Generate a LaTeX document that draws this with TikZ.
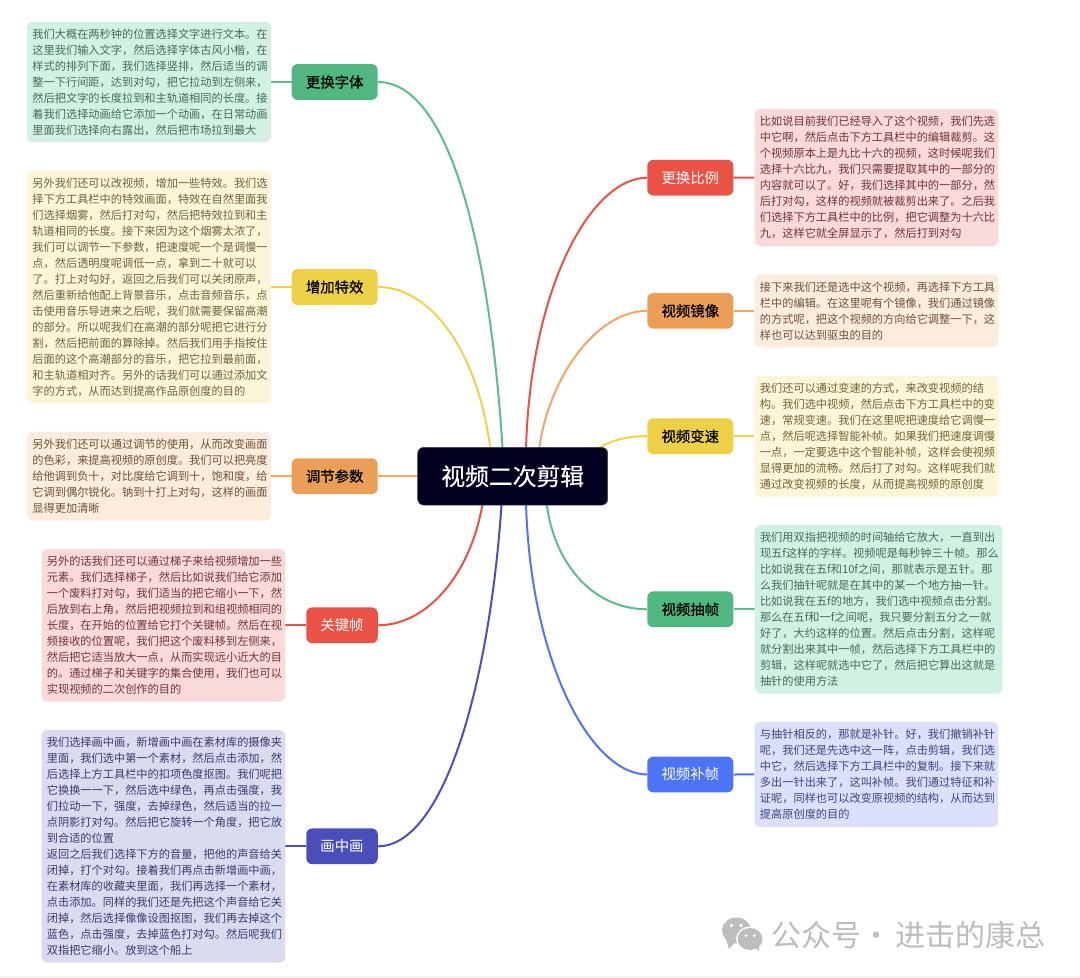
\documentclass[tikz,border=0pt]{standalone}
\usepackage{fontspec}
\setmainfont{Noto Sans CJK SC}
\newfontfamily\medfont[FakeBold=0.7]{Noto Sans CJK SC}
\newfontfamily\rootfont[FakeBold=0.3]{Noto Sans CJK SC}
\usetikzlibrary{backgrounds}
\definecolor{gN}{HTML}{4FB77F}\definecolor{gL}{HTML}{5AC08B}\definecolor{gB}{HTML}{D3F1E3}\definecolor{gT}{HTML}{3F6F5A}
\definecolor{yN}{HTML}{EED047}\definecolor{yL}{HTML}{F2D14A}\definecolor{yB}{HTML}{FCF5D8}\definecolor{yT}{HTML}{6E6537}
\definecolor{oN}{HTML}{EB9F56}\definecolor{oL}{HTML}{F2A765}\definecolor{oB}{HTML}{FBECDD}\definecolor{oT}{HTML}{6E5238}
\definecolor{rN}{HTML}{EA5245}\definecolor{rL}{HTML}{EA5245}\definecolor{rB}{HTML}{F9D9D9}\definecolor{rT}{HTML}{733535}
\definecolor{iN}{HTML}{4A4EB8}\definecolor{iL}{HTML}{4B4FB9}\definecolor{iB}{HTML}{DBDBF0}\definecolor{iT}{HTML}{3A3A6F}
\definecolor{bN}{HTML}{4D73F7}\definecolor{bL}{HTML}{4F74F8}\definecolor{bB}{HTML}{DCE0FB}\definecolor{bT}{HTML}{3C4580}
\definecolor{rootC}{HTML}{02001F}\definecolor{wm}{HTML}{BDBDBD}\definecolor{strip}{HTML}{F5F5F5}
\tikzset{
  note/.style={rounded corners=6pt,inner xsep=5.3pt,inner ysep=0pt,align=left,
    font=\fontsize{11.2pt}{16pt}\selectfont},
  wide/.style={minimum width=243.7pt,text width=233.1pt},
  topic/.style={rounded corners=6pt,inner sep=0pt,minimum height=35.8pt,align=center},
  dark/.style={topic,text=black,font=\fontsize{14.4pt}{17pt}\medfont},
  light/.style={topic,text=white,font=\fontsize{14.4pt}{17pt}\selectfont},
  link/.style={line width=2pt}
}
\begin{document}
\begin{tikzpicture}[x=1pt,y=-1pt]
\useasboundingbox (0,0) rectangle (1080,978);

% root
\node[rounded corners=6pt,fill=rootC,draw=rootC!75!white,line width=.5pt,text=white,inner sep=0pt,
  minimum width=190pt,minimum height=57.7pt,font=\fontsize{23.8pt}{28pt}\rootfont] (root) at (512.7,476.2) {视频二次剪辑};

% topics
\node[dark,fill=gN,minimum width=86pt] (nA) at (334.7,82) {更换字体};
\node[dark,fill=yN,minimum width=86pt] (nB) at (334.7,287) {增加特效};
\node[dark,fill=oN,minimum width=86pt] (nC) at (334.7,476.2) {调节参数};
\node[light,fill=rN,minimum width=71.5pt] (nD) at (342,625.3) {关键帧};
\node[light,fill=iN,minimum width=71.5pt] (nE) at (342,846.3) {画中画};
\node[light,fill=rN,minimum width=86pt] (nF) at (690.3,177.7) {更换比例};
\node[dark,fill=oN,minimum width=86pt] (nG) at (690.3,310.8) {视频镜像};
\node[dark,fill=yN,minimum width=86pt] (nH) at (690.3,436.2) {视频变速};
\node[dark,fill=gN,minimum width=86pt] (nI) at (690.3,609.3) {视频抽帧};
\node[light,fill=bN,minimum width=86pt] (nJ) at (690.3,774.5) {视频补帧};

% notes
\node[note,wide,fill=gB,text=gT,minimum height=120.6pt] (bA) at (149,82) {我们大概在两秒钟的位置选择文字进行文本。在\\这里我们输入文字，然后选择字体古风小楷，在\\样式的排列下面，我们选择竖排，然后适当的调\\整一下行间距，达到对勾，把它拉动到左侧来，\\然后把文字的长度拉到和主轨道相同的长度。接\\着我们选择动画给它添加一个动画，在日常动画\\里面我们选择向右露出，然后把市场拉到最大};
\node[note,wide,fill=yB,text=yT,minimum height=232pt] (bB) at (149,287) {另外我们还可以改视频，增加一些特效。我们选\\择下方工具栏中的特效画面，特效在自然里面我\\们选择烟雾，然后打对勾，然后把特效拉到和主\\轨道相同的长度。接下来因为这个烟雾太浓了，\\我们可以调节一下参数，把速度呢一个是调慢一\\点，然后透明度呢调低一点，拿到二十就可以\\了。打上对勾好，返回之后我们可以关闭原声，\\然后重新给他配上背景音乐，点击音频音乐，点\\击使用音乐导进来之后呢，我们就需要保留高潮\\的部分。所以呢我们在高潮的部分呢把它进行分\\割，然后把前面的算除掉。然后我们用手指按住\\后面的这个高潮部分的音乐，把它拉到最前面，\\和主轨道相对齐。另外的话我们可以通过添加文\\字的方式，从而达到提高作品原创度的目的};
\node[note,wide,fill=oB,text=oT,minimum height=89pt] (bC) at (149,476.2) {另外我们还可以通过调节的使用，从而改变画面\\的色彩，来提高视频的原创度。我们可以把亮度\\给他调到负十，对比度给它调到十，饱和度，给\\它调到偶尔锐化。钠到十打上对勾，这样的画面\\显得更加清晰};
\node[note,wide,fill=rB,text=rT,minimum height=152.7pt] (bD) at (163.4,625.3) {另外的话我们还可以通过梯子来给视频增加一些\\元素。我们选择梯子，然后比如说我们给它添加\\一个废料打对勾，我们适当的把它缩小一下，然\\后放到右上角，然后把视频拉到和组视频相同的\\长度，在开始的位置给它打个关键帧。然后在视\\频接收的位置呢，我们把这个废料移到左侧来，\\然后把它适当放大一点，从而实现远小近大的目\\的。通过梯子和关键字的集合使用，我们也可以\\实现视频的二次创作的目的};
\node[note,wide,fill=iB,text=iT,minimum height=232.7pt] (bE) at (163.4,846.3) {我们选择画中画，新增画中画在素材库的摄像夹\\里面，我们选中第一个素材，然后点击添加，然\\后选择上方工具栏中的扣项色度抠图。我们呢把\\它换换一一下，然后选中绿色，再点击强度，我\\们拉动一下，强度，去掉绿色，然后适当的拉一\\点阴影打对勾。然后把它旋转一个角度，把它放\\到合适的位置\\返回之后我们选择下方的音量，把他的声音给关\\闭掉，打个对勾。接着我们再点击新增画中画，\\在素材库的收藏夹里面，我们再选择一个素材，\\点击添加。同样的我们还是先把这个声音给它关\\闭掉，然后选择像像设图抠图，我们再去掉这个\\蓝色，点击强度，去掉蓝色打对勾。然后呢我们\\双指把它缩小。放到这个船上};
\node[note,wide,fill=rB,text=rT,minimum height=137pt] (bF) at (876.5,177.5) {比如说目前我们已经导入了这个视频，我们先选\\中它啊，然后点击下方工具栏中的编辑裁剪。这\\个视频原本上是九比十六的视频，这时候呢我们\\选择十六比九，我们只需要提取其中的一部分的\\内容就可以了。好，我们选择其中的一部分，然\\后打对勾，这样的视频就被裁剪出来了。之后我\\们选择下方工具栏中的比例，把它调整为十六比\\九，这样它就全屏显示了，然后打到对勾};
\node[note,wide,fill=oB,text=oT,minimum height=73pt] (bG) at (876.5,310.8) {接下来我们还是选中这个视频，再选择下方工具\\栏中的编辑。在这里呢有个镜像，我们通过镜像\\的方式呢，把这个视频的方向给它调整一下，这\\样也可以达到驱虫的目的};
\node[note,wide,fill=yB,text=yT,minimum height=121pt] (bH) at (876.5,436.2) {我们还可以通过变速的方式，来改变视频的结\\构。我们选中视频，然后点击下方工具栏中的变\\速，常规变速。我们在这里呢把速度给它调慢一\\点，然后呢选择智能补帧。如果我们把速度调慢\\一点，一定要选中这个智能补帧，这样会使视频\\显得更加的流畅。然后打了对勾。这样呢我们就\\通过改变视频的长度，从而提高视频的原创度};
\node[note,minimum width=248pt,text width=237.4pt,fill=gB,text=gT,minimum height=168.7pt] (bI) at (878.7,609.3) {我们用双指把视频的时间轴给它放大，一直到出\\现五f这样的字样。视频呢是每秒钟三十帧。那么\\比如说我在五f和10f之间，那就表示是五针。那\\么我们抽针呢就是在其中的某一个地方抽一针。\\比如说我在五f的地方，我们选中视频点击分割。\\那么在五f和一f之间呢，我只要分割五分之一就\\好了，大约这样的位置。然后点击分割，这样呢\\就分割出来其中一帧，然后选择下方工具栏中的\\剪辑，这样呢就选中它了，然后把它算出这就是\\抽针的使用方法};
\node[note,wide,fill=bB,text=bT,minimum height=105.3pt] (bJ) at (876.5,774.4) {与抽针相反的，那就是补针。好，我们撤销补针\\呢，我们还是先选中这一阵，点击剪辑，我们选\\中它，然后选择下方工具栏中的复制。接下来就\\多出一针出来了，这叫补帧。我们通过特征和补\\证呢，同样也可以改变原视频的结构，从而达到\\提高原创度的目的};

% attachment points on the root
\coordinate (rA) at (502.7,450);
\coordinate (rB) at (490.5,450);
\coordinate (rD) at (482.8,502);
\coordinate (rE) at (501.7,502);
\coordinate (rF) at (526,450);
\coordinate (rG) at (539,450);
\coordinate (rH) at (597,449);
\coordinate (rI) at (546.5,502);
\coordinate (rJ) at (526,502);

\begin{scope}[on background layer]
\fill[white] (0,0) rectangle (1080,978);
\fill[strip] (0,976) rectangle (1080,978);
\draw[link,gL] (nA.west) -- (bA.east);
\draw[link,yL] (nB.west) -- (bB.east);
\draw[link,oL] (nC.west) -- (bC.east);
\draw[link,rL] (nD.west) -- (bD.east);
\draw[link,iL] (nE.west) -- (bE.east);
\draw[link,rL] (nF.east) -- (bF.west);
\draw[link,oL] (nG.east) -- (bG.west);
\draw[link,yL] (nH.east) -- (bH.west);
\draw[link,gL] (nI.east) -- (bI.west);
\draw[link,bL] (nJ.east) -- (bJ.west);
\draw[link,oL] (nC.east) -- (root.west);
\draw[link,gL] (nA.east) .. controls (450,82) and (490,250) .. (rA);
\draw[link,yL] (nB.east) .. controls (430,287) and (478,350) .. (rB);
\draw[link,rL] (nD.east) .. controls (430,625) and (472,570) .. (rD);
\draw[link,iL] (nE.east) .. controls (445,846) and (490,680) .. (rE);
\draw[link,rL] (nF.west) .. controls (590,178) and (530,290) .. (rF);
\draw[link,oL] (nG.west) .. controls (595,311) and (548,380) .. (rG);
\draw[link,yL] (nH.west) .. controls (625,436) and (610,441) .. (rH);
\draw[link,gL] (nI.west) .. controls (590,609) and (553,560) .. (rI);
\draw[link,bL] (nJ.west) .. controls (590,774) and (530,660) .. (rJ);
\end{scope}

% watermark
\fill[wm] (736.5,930.5) ellipse (14.5pt and 13pt);
\fill[wm] (726,939) -- (729,949) -- (736,941) -- cycle;
\fill[white] (750,939) ellipse (14pt and 12.5pt);
\fill[wm] (750,939) ellipse (12.5pt and 11pt);
\fill[wm] (754,946) -- (759,951) -- (759,944) -- cycle;
\fill[white] (731.5,925.5) circle (1.8pt) (741,925.5) circle (1.8pt);
\fill[white] (746,935.5) circle (1.5pt) (754.5,935.5) circle (1.5pt);
\node[anchor=west,inner sep=0pt,text=wm,font=\fontsize{30pt}{32pt}\selectfont] (wmark) at (771,935) {公众号·\hspace{4pt}进击的康总};
\end{tikzpicture}
\end{document}
